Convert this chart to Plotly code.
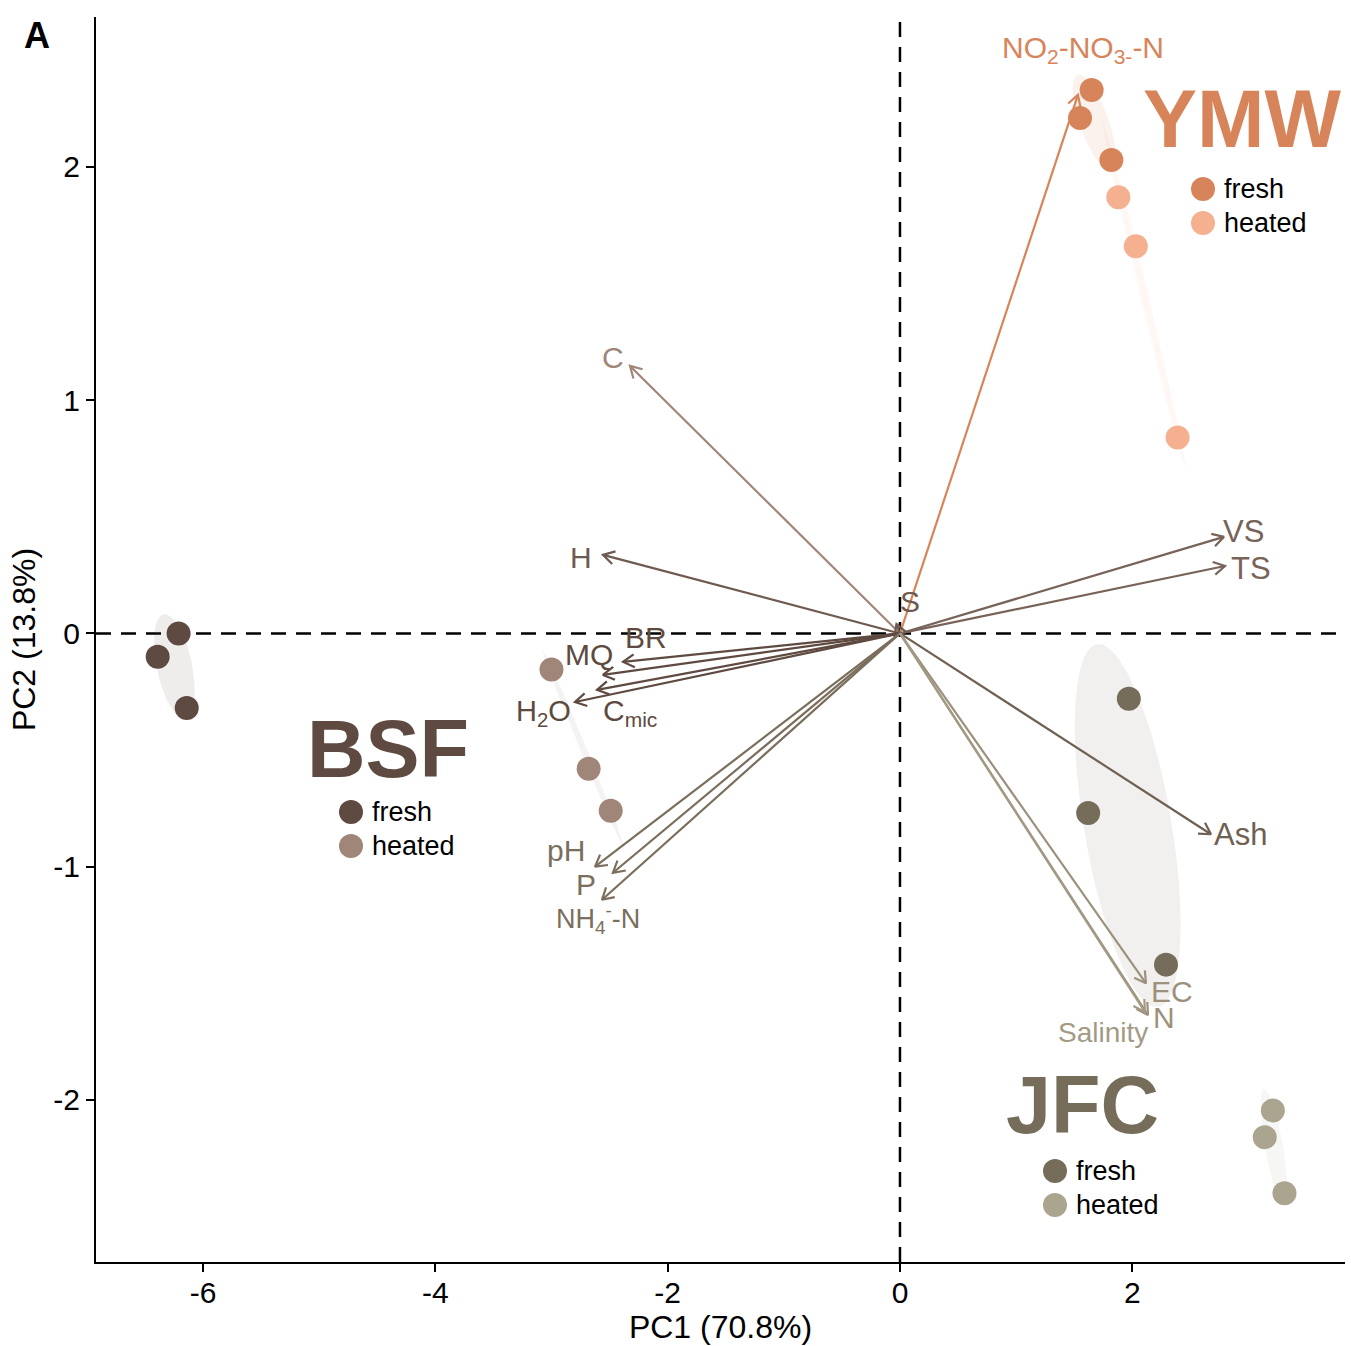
import numpy as np
import plotly.graph_objects as go

# ---------------- data: sample scores (PC1, PC2) ----------------
groups = ["BSF", "YMW", "JFC"]
conditions = ["fresh", "heated"]

bsf_fresh_pc1 = [-6.21, -6.39, -6.14]
bsf_fresh_pc2 = [0.00, -0.10, -0.32]
bsf_heated_pc1 = [-3.00, -2.68, -2.49]
bsf_heated_pc2 = [-0.155, -0.58, -0.76]

ymw_fresh_pc1 = [1.65, 1.55, 1.82]
ymw_fresh_pc2 = [2.33, 2.21, 2.03]
ymw_heated_pc1 = [1.88, 2.03, 2.39]
ymw_heated_pc2 = [1.87, 1.66, 0.84]

jfc_fresh_pc1 = [1.97, 1.62, 2.29]
jfc_fresh_pc2 = [-0.28, -0.77, -1.42]
jfc_heated_pc1 = [3.21, 3.14, 3.31]
jfc_heated_pc2 = [-2.045, -2.16, -2.40]

# ---------------- data: variable loadings ----------------
var_names = ["NO<sub>2</sub>-NO<sub>3-</sub>-N", "C", "H", "VS", "TS", "S",
             "BR", "MQ", "C<sub>mic</sub>", "H<sub>2</sub>O",
             "pH", "P", "NH<sub>4</sub><sup>-</sup>-N",
             "Ash", "EC", "N", "Salinity"]
load_pc1 = [1.532, -2.324, -2.557, 2.789, 2.798, -0.03,
            -2.384, -2.557, -2.608, -2.798,
            -2.625, -2.471, -2.565,
            2.677, 2.118, 2.135, 2.109]
load_pc2 = [2.309, 1.147, 0.337, 0.414, 0.289, 0.04,
            -0.122, -0.178, -0.242, -0.294,
            -1.000, -1.026, -1.142,
            -0.861, -1.500, -1.636, -1.623]

# label positions (repelled from arrow tips)
label_pc1 = [1.575, -2.47, -2.746, 2.961, 3.021, 0.086,
             -2.186, -2.677, -2.324, -3.073,
             -2.875, -2.703, -2.600,
             2.935, 2.341, 2.273, 1.747]
label_pc2 = [2.502, 1.185, 0.324, 0.435, 0.277, 0.135,
             -0.019, -0.092, -0.341, -0.341,
             -0.932, -1.078, -1.224,
             -0.864, -1.537, -1.648, -1.713]

x_ticks = [-6, -4, -2, 0, 2]
y_ticks = [-2, -1, 0, 1, 2]
x_title = "PC1 (70.8%)"
y_title = "PC2 (13.8%)"

# ---------------- styles ----------------
colors = {
    ("BSF", "fresh"): "#5e4a40", ("BSF", "heated"): "#a08579",
    ("YMW", "fresh"): "#d8845a", ("YMW", "heated"): "#f5b090",
    ("JFC", "fresh"): "#766c5a", ("JFC", "heated"): "#aba48f",
}
var_colors = ["#d8845a", "#a08579", "#6e5a50", "#786359", "#786359", "#6e5a50",
              "#5e4a40", "#5e4a40", "#5e4a40", "#5e4a40",
              "#7a6e5c", "#7a6e5c", "#7a6e5c",
              "#6e6052", "#9b917c", "#9b917c", "#a39a85"]
var_sizes = [30, 30, 30, 31, 31, 30, 30, 30, 30, 29, 30, 30, 27, 31, 30, 30, 28]

scores = {
    ("BSF", "fresh"): (bsf_fresh_pc1, bsf_fresh_pc2),
    ("BSF", "heated"): (bsf_heated_pc1, bsf_heated_pc2),
    ("YMW", "fresh"): (ymw_fresh_pc1, ymw_fresh_pc2),
    ("YMW", "heated"): (ymw_heated_pc1, ymw_heated_pc2),
    ("JFC", "fresh"): (jfc_fresh_pc1, jfc_fresh_pc2),
    ("JFC", "heated"): (jfc_heated_pc1, jfc_heated_pc2),
}

W, H = 1351, 1346
ml, mr, mt, mb = 96, 6, 17, 84
xr = [-6.921, 3.831]
yr = [-2.695, 2.643]
pw, ph = W - ml - mr, H - mt - mb
kx = pw / (xr[1] - xr[0])
ky = ph / (yr[1] - yr[0])

FONT = "Liberation Sans, Arial, sans-serif"


def hex_rgba(h, a):
    h = h.lstrip("#")
    return "rgba(%d,%d,%d,%.3f)" % (int(h[0:2], 16), int(h[2:4], 16), int(h[4:6], 16), a)


def px2x(px):
    return xr[0] + (px - ml) / kx


def px2y(py):
    return yr[1] - (py - mt) / ky


fig = go.Figure()

# ellipses
s = 1.36
t = np.linspace(0, 2 * np.pi, 120)
for key, (xs, ys) in scores.items():
    pts = np.array([xs, ys])
    mu = pts.mean(axis=1)
    cov = np.cov(pts)
    vals, vecs = np.linalg.eigh(cov)
    vals = np.clip(vals, 1e-6, None)
    circ = np.vstack([np.cos(t), np.sin(t)])
    ell = mu[:, None] + s * vecs @ (np.sqrt(vals)[:, None] * circ)
    fig.add_trace(go.Scatter(x=ell[0], y=ell[1], mode="lines", fill="toself",
                             fillcolor=hex_rgba(colors[key], 0.10),
                             line=dict(width=0), hoverinfo="skip", showlegend=False))

# arrows
head_len = 13
half_ang = np.deg2rad(30)
for i, name in enumerate(var_names):
    x, y = load_pc1[i], load_pc2[i]
    dx, dy = x * kx, y * ky
    n = np.hypot(dx, dy)
    ux, uy = dx / n, dy / n
    wings = []
    for a in (half_ang, -half_ang):
        rx = ux * np.cos(a) - uy * np.sin(a)
        ry = ux * np.sin(a) + uy * np.cos(a)
        wings.append((x - head_len * rx / kx, y - head_len * ry / ky))
    xs = [0, x, None, wings[0][0], x, wings[1][0]]
    ys = [0, y, None, wings[0][1], y, wings[1][1]]
    fig.add_trace(go.Scatter(x=xs, y=ys, mode="lines",
                             line=dict(color=var_colors[i], width=2.2),
                             hoverinfo="skip", showlegend=False))

# points
for key, (xs, ys) in scores.items():
    fig.add_trace(go.Scatter(x=xs, y=ys, mode="markers",
                             marker=dict(size=24, color=colors[key], line=dict(width=0)),
                             name="%s %s" % key, showlegend=False))

annotations = []
for i, name in enumerate(var_names):
    annotations.append(dict(x=label_pc1[i], y=label_pc2[i], text=name, showarrow=False,
                            xanchor="center", yanchor="middle",
                            font=dict(family=FONT, size=var_sizes[i], color=var_colors[i])))

# group labels and legends
group_label_px = {"BSF": (388, 752), "YMW": (1242, 122), "JFC": (1082, 1108)}
legend_px = {"BSF": (351, 812), "YMW": (1203, 189), "JFC": (1055, 1171)}
shapes = []
for g in groups:
    gx, gy = group_label_px[g]
    annotations.append(dict(x=px2x(gx), y=px2y(gy - 3), text="<b>%s</b>" % g, showarrow=False,
                            xanchor="center", yanchor="middle",
                            font=dict(family=FONT, size=81, color=colors[(g, "fresh")])))
    lx, ly = legend_px[g]
    for j, c in enumerate(conditions):
        cy = ly + 34 * j
        shapes.append(dict(type="circle", xref="x", yref="y", xsizemode="pixel", ysizemode="pixel",
                           xanchor=px2x(lx), yanchor=px2y(cy), x0=-12, x1=12, y0=-12, y1=12,
                           fillcolor=colors[(g, c)], line=dict(width=0)))
        annotations.append(dict(x=px2x(lx + 19), y=px2y(cy), text=c, showarrow=False,
                                xanchor="left", yanchor="middle",
                                font=dict(family=FONT, size=27, color="black")))

# dashed reference lines
shapes.append(dict(type="line", xref="x", yref="paper", x0=0, x1=0, y0=0, y1=1, layer="below",
                   line=dict(color="black", width=2.5, dash="15px,10px")))
shapes.append(dict(type="line", xref="paper", yref="y", x0=0, x1=1, y0=0, y1=0, layer="below",
                   line=dict(color="black", width=2.5, dash="15px,10px")))

# panel label
annotations.append(dict(x=(37 - ml) / pw, y=1 - (35 - mt) / ph, xref="paper", yref="paper",
                        text="<b>A</b>", showarrow=False, xanchor="center", yanchor="middle",
                        font=dict(family=FONT, size=36, color="black")))

fig.update_layout(
    width=W, height=H,
    margin=dict(l=ml, r=mr, t=mt, b=mb),
    plot_bgcolor="white", paper_bgcolor="white",
    font=dict(family=FONT, color="black"),
    annotations=annotations, shapes=shapes,
    showlegend=False,
)
fig.update_xaxes(range=xr, tickvals=x_ticks, ticktext=[str(v) for v in x_ticks],
                 showgrid=False, zeroline=False, showline=True, linecolor="black", linewidth=2,
                 ticks="outside", ticklen=8, tickwidth=1.8, tickcolor="black",
                 ticklabelstandoff=-5,
                 tickfont=dict(family=FONT, size=30, color="black"),
                 title=dict(text=x_title, font=dict(family=FONT, size=32, color="black"), standoff=4))
fig.update_yaxes(range=yr, tickvals=y_ticks, ticktext=[str(v) for v in y_ticks],
                 showgrid=False, zeroline=False, showline=True, linecolor="black", linewidth=2,
                 ticks="outside", ticklen=8, tickwidth=1.8, tickcolor="black",
                 tickfont=dict(family=FONT, size=30, color="black"),
                 title=dict(text=y_title, font=dict(family=FONT, size=32, color="black"), standoff=8))

fig.write_html("out.html")
